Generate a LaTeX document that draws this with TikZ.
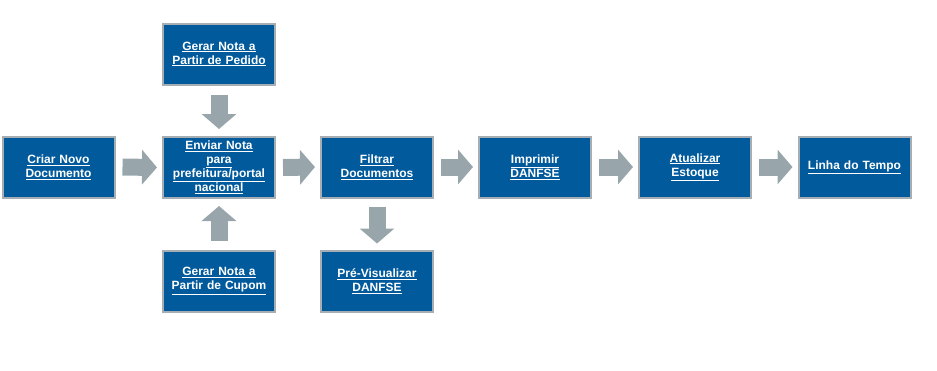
\documentclass[tikz,border=0pt]{standalone}
\usepackage{fontspec}
\setmainfont{Liberation Sans}
\usepackage{tikz}
\usetikzlibrary{arrows.meta}

\definecolor{boxblue}{RGB}{0,90,156}
\definecolor{boxedge}{RGB}{166,174,180}
\definecolor{arrowgray}{RGB}{152,166,172}

\tikzset{
    stepnode/.style={rectangle, draw=boxedge, line width=2pt, fill=boxblue,
        minimum width=112pt, minimum height=61pt, inner sep=0pt,
        text=white, align=center, text width=110pt,
        font=\bfseries\fontsize{12}{14}\selectfont},
    blockarrow/.style={draw=arrowgray, line width=17pt,
        -{Triangle[length=15pt,width=34pt]}, shorten <=7pt, shorten >=5pt}
}

\newcommand{\ul}[1]{\underline{#1}}

\begin{document}
\begin{tikzpicture}[x=1pt, y=-1pt]
    \useasboundingbox (0,0) rectangle (937,370);

    % main row
    \node[stepnode] (criar) at (58.5,167) {\ul{Criar Novo}\\\ul{Documento}};
    \node[stepnode] (enviar) at (219,167.5) {\ul{Enviar Nota}\\\ul{para}\\\ul{prefeitura/portal}\\\ul{nacional}};
    \node[stepnode] (filtrar) at (377,167) {\ul{Filtrar}\\\ul{Documentos}};
    \node[stepnode] (imprimir) at (535,167) {\ul{Imprimir}\\\ul{DANFSE}};
    \node[stepnode] (atualizar) at (695,167) {\ul{Atualizar}\\\ul{Estoque}};
    \node[stepnode] (linha) at (854.5,167) {\ul{Linha do Tempo}};

    % side boxes
    \node[stepnode] (pedido) at (219,54) {\ul{Gerar Nota a}\\\ul{Partir de Pedido}};
    \node[stepnode] (cupom) at (219,281) {\ul{Gerar Nota a}\\\ul{Partir de Cupom}};
    \node[stepnode] (previs) at (377,281) {\ul{Pré-Visualizar}\\\ul{DANFSE}};

    % arrows
    \draw[blockarrow] (criar.east) -- (enviar.west);
    \draw[blockarrow] (enviar.east) -- (filtrar.west);
    \draw[blockarrow] (filtrar.east) -- (imprimir.west);
    \draw[blockarrow] (imprimir.east) -- (atualizar.west);
    \draw[blockarrow] (atualizar.east) -- (linha.west);
    \draw[blockarrow, shorten <=9pt, shorten >=7pt] (pedido.south) -- (enviar.north);
    \draw[blockarrow, shorten <=9pt, shorten >=7pt] (cupom.north) -- (enviar.south);
    \draw[blockarrow, shorten <=8pt, shorten >=6pt] (filtrar.south) -- (previs.north);
\end{tikzpicture}
\end{document}
